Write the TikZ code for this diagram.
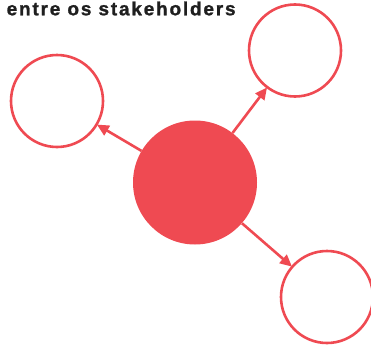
\documentclass[tikz,border=0pt]{standalone}
\usepackage{fontspec}
\setmainfont{Liberation Sans}
\newfontfamily\titlefont[LetterSpace=9.5,FakeBold=1.2]{Liberation Sans Bold}
\usetikzlibrary{arrows.meta}
\definecolor{myred}{HTML}{EF4A52}
\begin{document}
\begin{tikzpicture}[x=1pt,y=-1pt,
  ring/.style={circle,draw=myred,line width=2.6pt,minimum size=92pt,inner sep=0pt},
  hub/.style={circle,fill=myred,minimum size=124pt,inner sep=0pt},
  link/.style={draw=myred,line width=2.6pt,-{Triangle[length=12pt,width=11pt]},shorten >=-1pt}]
\useasboundingbox (0,0) rectangle (371,348);
\begin{scope}
\clip (0,0) rectangle (371,348);
\node[anchor=base west,inner sep=0pt,font=\titlefont\fontsize{19}{21}\selectfont,text=black!88] (title) at (6.5,15.3) {entre os stakeholders};
\node[hub] (c) at (195,182.5) {};
\node[ring] (tr) at (295,50.5) {};
\node[ring] (l) at (57,101) {};
\node[ring] (br) at (327,297) {};
\draw[link] (c) -- (tr);
\draw[link] (c) -- (l);
\draw[link] (c) -- (br);
\end{scope}
\end{tikzpicture}
\end{document}
